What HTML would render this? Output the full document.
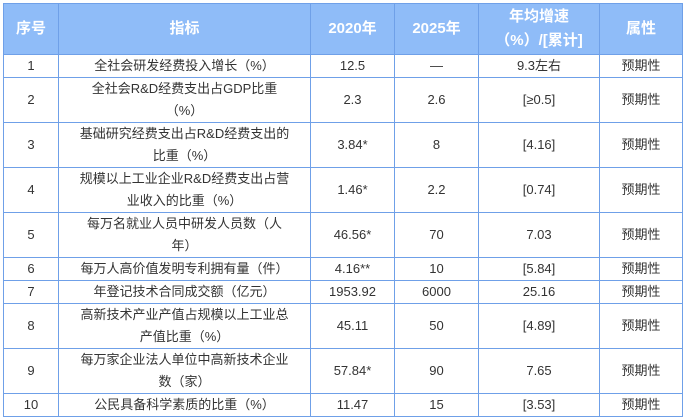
<!DOCTYPE html>
<html><head><meta charset="utf-8"><style>
body{margin:0;width:684px;height:420px;background:#fff;overflow:hidden}
table{position:absolute;left:3px;top:3px;border-collapse:collapse;table-layout:fixed;width:679px;font-family:"Liberation Sans","Noto Sans CJK SC",sans-serif;font-size:13px;color:#333}
td,th{border:1px solid #6fa0e8;text-align:center;vertical-align:middle;padding:0 4px;line-height:22px}
th{background:#8fbcf8;color:#fff;font-size:15px;font-weight:bold;line-height:24px}
</style></head><body>
<table>
<colgroup><col style="width:55px"><col style="width:252px"><col style="width:84px"><col style="width:84px"><col style="width:121px"><col style="width:83px"></colgroup>
<tr style="height:51px"><th>序号</th><th>指标</th><th>2020年</th><th>2025年</th><th>年均增速<br>（%）/[累计]</th><th>属性</th></tr>
<tr style="height:23px"><td>1</td><td>全社会研发经费投入增长（%）</td><td>12.5</td><td>—</td><td>9.3左右</td><td>预期性</td></tr>
<tr style="height:45px"><td>2</td><td>全社会R&amp;D经费支出占GDP比重<br>（%）</td><td>2.3</td><td>2.6</td><td>[≥0.5]</td><td>预期性</td></tr>
<tr style="height:45px"><td>3</td><td>基础研究经费支出占R&amp;D经费支出的<br>比重（%）</td><td>3.84*</td><td>8</td><td>[4.16]</td><td>预期性</td></tr>
<tr style="height:45px"><td>4</td><td>规模以上工业企业R&amp;D经费支出占营<br>业收入的比重（%）</td><td>1.46*</td><td>2.2</td><td>[0.74]</td><td>预期性</td></tr>
<tr style="height:45px"><td>5</td><td>每万名就业人员中研发人员数（人<br>年）</td><td>46.56*</td><td>70</td><td>7.03</td><td>预期性</td></tr>
<tr style="height:23px"><td>6</td><td>每万人高价值发明专利拥有量（件）</td><td>4.16**</td><td>10</td><td>[5.84]</td><td>预期性</td></tr>
<tr style="height:23px"><td>7</td><td>年登记技术合同成交额（亿元）</td><td>1953.92</td><td>6000</td><td>25.16</td><td>预期性</td></tr>
<tr style="height:45px"><td>8</td><td>高新技术产业产值占规模以上工业总<br>产值比重（%）</td><td>45.11</td><td>50</td><td>[4.89]</td><td>预期性</td></tr>
<tr style="height:45px"><td>9</td><td>每万家企业法人单位中高新技术企业<br>数（家）</td><td>57.84*</td><td>90</td><td>7.65</td><td>预期性</td></tr>
<tr style="height:23px"><td>10</td><td>公民具备科学素质的比重（%）</td><td>11.47</td><td>15</td><td>[3.53]</td><td>预期性</td></tr>
</table>
</body></html>
